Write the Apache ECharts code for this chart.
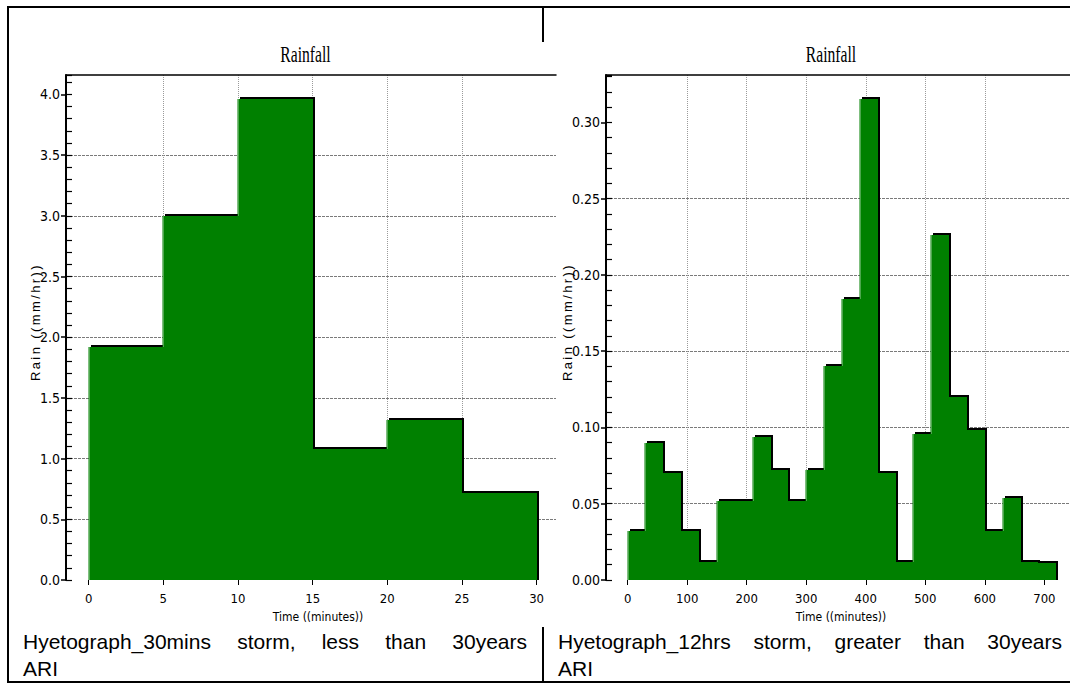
<!DOCTYPE html>
<html>
<head>
<meta charset="utf-8">
<script src="https://cdn.jsdelivr.net/npm/echarts@6/dist/echarts.min.js"></script>
<style>
html,body{margin:0;padding:0;background:#fff;}
#wrap{position:relative;width:1070px;height:684px;overflow:hidden;background:#fff;}
#chart{position:absolute;left:0;top:0;width:1070px;height:684px;}
.ln{position:absolute;background:#000;}
.cap{position:absolute;font-family:'Liberation Sans',Arial,sans-serif;font-size:21px;line-height:27px;color:#000;}
.cap .l1{text-align:justify;text-align-last:justify;}
.yname{position:absolute;font-family:'Liberation Sans',Arial,sans-serif;font-size:13px;letter-spacing:2.4px;color:#000;
       white-space:nowrap;transform:translate(-50%,-50%) rotate(-90deg);z-index:2;line-height:14px;}
</style>
</head>
<body>
<div id="wrap">
  <div class="ln" style="left:7px;top:6px;width:1063px;height:2px;"></div>
  <div class="ln" style="left:7px;top:6px;width:2px;height:677px;"></div>
  <div class="ln" style="left:7px;top:681px;width:1063px;height:2px;"></div>
  <div class="ln" style="left:542px;top:6px;width:2px;height:36px;"></div>
  <div class="ln" style="left:542px;top:627px;width:2px;height:55px;"></div>
  <div class="cap" style="left:23px;top:628px;width:504px;">
    <div class="l1">Hyetograph_30mins storm, less than 30years</div>
    <div>ARI</div>
  </div>
  <div class="cap" style="left:558px;top:628px;width:504px;">
    <div class="l1">Hyetograph_12hrs storm, greater than 30years</div>
    <div>ARI</div>
  </div>
  <div id="chart"></div>
  <div class="yname" id="ynameL" style="left:36px;top:322px;"></div>
  <div class="yname" id="ynameR" style="left:568px;top:322px;"></div>
</div>
<script>
// ---- data ----
const leftStart = [0, 5, 10, 15, 20, 25];
const leftEnd   = [5, 10, 15, 20, 25, 30];
const leftRain  = [1.92, 3.00, 3.96, 1.08, 1.32, 0.72];

const rightStart = [0, 30, 60, 90, 120, 150, 180, 210, 240, 270, 300, 330,
                    360, 390, 420, 450, 480, 510, 540, 570, 600, 630, 660, 690];
const rightEnd   = [30, 60, 90, 120, 150, 180, 210, 240, 270, 300, 330, 360,
                    390, 420, 450, 480, 510, 540, 570, 600, 630, 660, 690, 720];
const rightRain  = [0.032, 0.090, 0.070, 0.032, 0.012, 0.052, 0.052, 0.094, 0.072, 0.052, 0.072, 0.140,
                    0.184, 0.315, 0.070, 0.012, 0.096, 0.226, 0.120, 0.098, 0.032, 0.054, 0.012, 0.011];

const leftXTicks  = [0, 5, 10, 15, 20, 25, 30];
const rightXTicks = [0, 100, 200, 300, 400, 500, 600, 700];
const leftYTicks  = [0, 0.5, 1.0, 1.5, 2.0, 2.5, 3.0, 3.5, 4.0];
const rightYTicks = [0, 0.05, 0.10, 0.15, 0.20, 0.25, 0.30];

const titleText = 'Rainfall';
const xName = 'Time ((minutes))';
const yName = 'Rain ((mm/hr))';

document.getElementById('ynameL').textContent = yName;
document.getElementById('ynameR').textContent = yName;

// ---- chart ----
const chart = echarts.init(document.getElementById('chart'), null, {renderer: 'svg'});
const narrow = "'Liberation Sans Narrow','DejaVu Sans Condensed','Liberation Sans',Arial,sans-serif";
const GREEN = '#008000';

function renderBars(params, api) {
  const x0 = api.value(0), x1 = api.value(1), v = api.value(2);
  const idx = params.dataIndexInside;
  const prev = idx > 0 ? api.value(2, idx - 1) : 0;
  const p0 = api.coord([x0, v]);
  const p1 = api.coord([x1, 0]);
  const L = Math.round(p0[0]), T = Math.round(p0[1]);
  const R = Math.round(p1[0]), B = Math.round(p1[1]);
  const w = R - L, h = B - T;
  const children = [
    {type: 'rect', shape: {x: L + 2, y: T - 2, width: w, height: h + 2}, style: {fill: '#000'}},
    {type: 'rect', shape: {x: L - 0.5, y: T, width: w + 0.5, height: h}, style: {fill: GREEN}}
  ];
  if (prev < v) {
    const pb = Math.round(api.coord([x0, prev])[1]);
    children.push({type: 'rect', shape: {x: L, y: T, width: 1, height: pb - T}, style: {fill: '#4da64d'}});
  }
  return {type: 'group', children: children};
}

function bottomX(grid, min, max, ticks) {
  return {
    type: 'value', gridIndex: grid, position: 'bottom', min: min, max: max,
    splitNumber: grid === 0 ? 6 : 7,
    name: xName, nameLocation: 'middle', nameGap: 31,
    nameTextStyle: {fontFamily: narrow, fontSize: 12, color: '#000', padding: grid === 0 ? [0, 0, 0, 14] : [0, 0, 0, 6]},
    axisLine: {show: true, onZero: false, lineStyle: {color: '#000', width: 2, shadowColor: '#8c8c8c', shadowOffsetY: 2, shadowBlur: 0}},
    axisTick: {show: true, inside: false, length: 5, customValues: ticks, lineStyle: {color: '#000', width: 1}},
    axisLabel: {show: true, margin: 12, customValues: ticks, fontFamily: narrow, fontSize: 13, color: '#000'},
    splitLine: {show: true, showMinLine: false, showMaxLine: false, lineStyle: {color: '#9a9a9a', width: 1, type: [1, 1]}}
  };
}
function topX(grid, min, max) {
  return {
    type: 'value', gridIndex: grid, position: 'top', min: min, max: max,
    axisLine: {show: true, onZero: false, lineStyle: {color: '#000', width: 1.5}},
    axisTick: {show: false}, axisLabel: {show: false}, splitLine: {show: false}
  };
}
function mainY(grid, max, interval, ticks, dec) {
  return {
    type: 'value', gridIndex: grid, position: 'left', min: 0, max: max, interval: interval,
    axisLine: {show: true, onZero: false, lineStyle: {color: '#000', width: 2}},
    axisTick: {show: true, inside: false, length: 5, customValues: ticks, lineStyle: {color: '#000', width: 1.5}},
    axisLabel: {show: true, margin: 6, customValues: ticks, fontFamily: narrow, fontSize: 14, color: '#000',
                formatter: v => v.toFixed(dec)},
    splitLine: {show: true, showMinLine: false, showMaxLine: false, lineStyle: {color: '#7a7a7a', width: 1, type: [3, 1]}}
  };
}
function minorY(grid, max, interval) {
  return {
    type: 'value', gridIndex: grid, position: 'left', min: 0, max: max, interval: interval,
    axisLine: {show: false, onZero: false},
    axisTick: {show: true, inside: true, length: 6, lineStyle: {color: '#000', width: 1.2}},
    minorTick: {show: true, splitNumber: 5, length: 6, lineStyle: {color: '#000', width: 1.2}},
    axisLabel: {show: false}, splitLine: {show: false}, minorSplitLine: {show: false}
  };
}

const option = {
  animation: false,
  backgroundColor: 'transparent',
  graphic: [
    {type: 'text', x: 305.5, y: 54, scaleX: 0.68, silent: true,
     style: {text: titleText, x: 0, y: 0, fill: '#000', fontSize: 23, fontFamily: "'Liberation Serif','Times New Roman',serif",
             align: 'center', verticalAlign: 'middle', textAlign: 'center', textVerticalAlign: 'middle'}},
    {type: 'text', x: 831, y: 54, scaleX: 0.68, silent: true,
     style: {text: titleText, x: 0, y: 0, fill: '#000', fontSize: 23, fontFamily: "'Liberation Serif','Times New Roman',serif",
             align: 'center', verticalAlign: 'middle', textAlign: 'center', textVerticalAlign: 'middle'}}
  ],
  grid: [
    {left: 66, width: 490, top: 75, bottom: 104},
    {left: 606, width: 464, top: 75, bottom: 104}
  ],
  xAxis: [
    bottomX(0, -1.52, 31.3, leftXTicks),
    topX(0, -1.52, 31.3),
    bottomX(1, -36.3, 743, rightXTicks),
    topX(1, -36.3, 743)
  ],
  yAxis: [
    mainY(0, 4.16, 0.5, leftYTicks, 1),
    minorY(0, 4.16, 0.5),
    mainY(1, 0.331, 0.05, rightYTicks, 2),
    minorY(1, 0.331, 0.05)
  ],
  series: [
    {type: 'custom', xAxisIndex: 0, yAxisIndex: 0, renderItem: renderBars, clip: true,
     encode: {x: [0, 1], y: 2},
     data: leftStart.map((s, i) => [s, leftEnd[i], leftRain[i]])},
    {type: 'custom', xAxisIndex: 2, yAxisIndex: 2, renderItem: renderBars, clip: true,
     encode: {x: [0, 1], y: 2},
     data: rightStart.map((s, i) => [s, rightEnd[i], rightRain[i]])}
  ]
};
chart.setOption(option);
</script>
</body>
</html>
